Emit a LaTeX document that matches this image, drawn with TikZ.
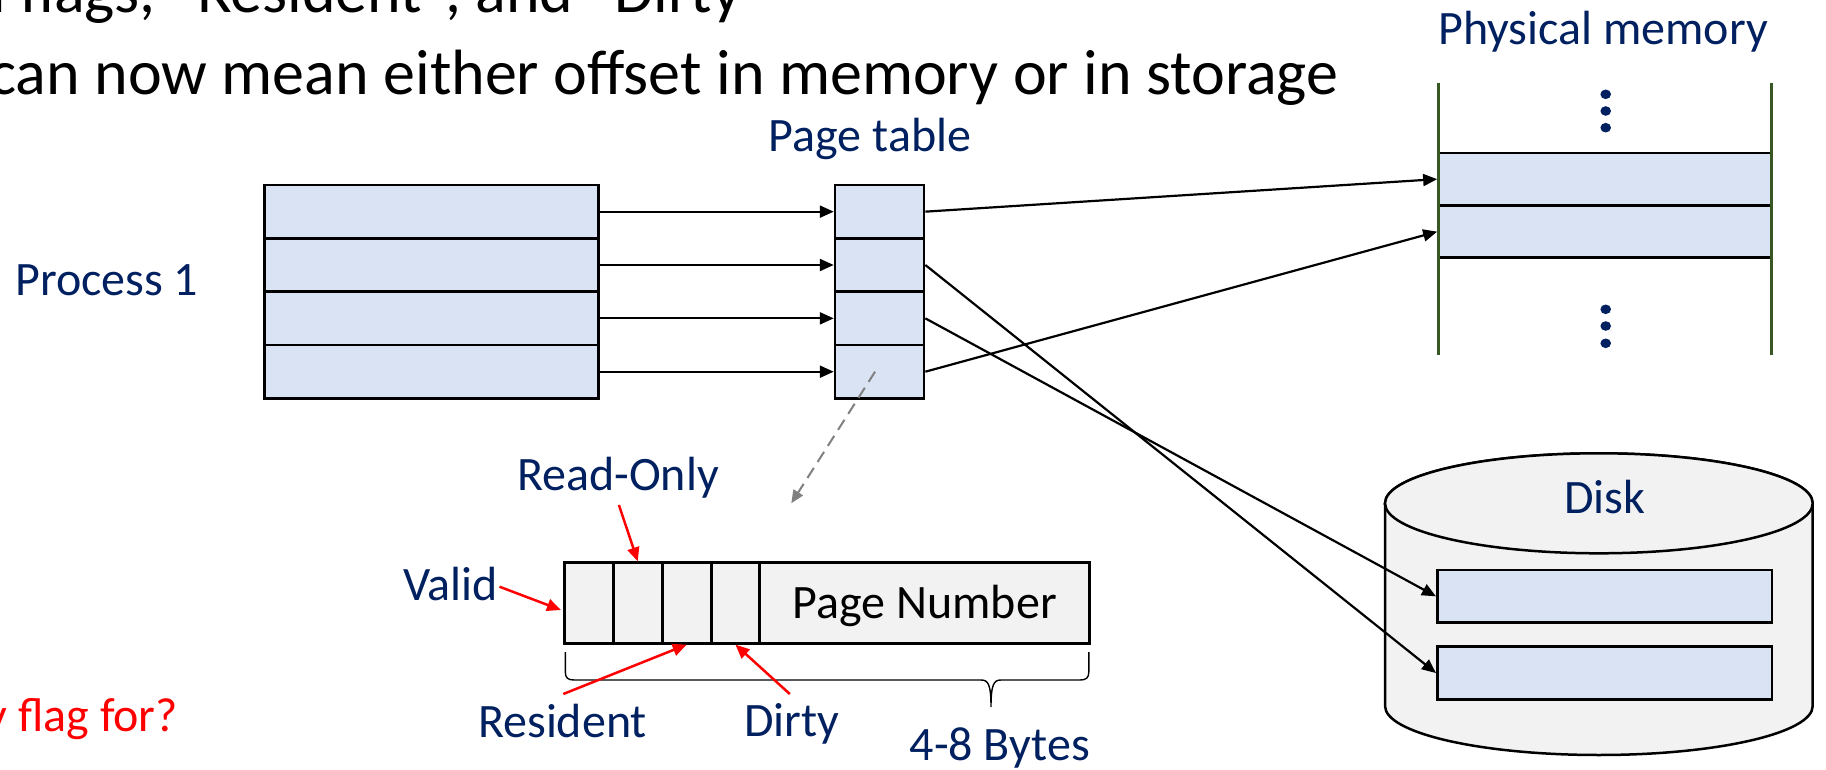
\documentclass[tikz,border=0pt]{standalone}
\usepackage{fontspec}
\setmainfont{Carlito}
\usetikzlibrary{arrows.meta,calc}
\definecolor{navy}{HTML}{002060}
\definecolor{boxblue}{HTML}{DAE3F3}
\definecolor{paleg}{HTML}{F2F2F2}
\definecolor{memgreen}{HTML}{385723}
\definecolor{pptred}{HTML}{FF0000}
\definecolor{dashgray}{HTML}{808080}
\newcommand\hdrfont{\fontsize{64}{76}\selectfont}
\newcommand\lblfont{\fontsize{48}{57}\selectfont}
\newlength\hdrskip
\newlength\qskip
\begin{document}
\settowidth{\hdrskip}{\hdrfont Add\ }%
\settowidth{\qskip}{\lblfont What is the Dirty\ }%
\begin{tikzpicture}[x=1pt,y=-1pt,
  prow/.style={draw=black, line width=2.7pt, fill=boxblue, rectangle, inner sep=0pt, minimum width=334.3pt, minimum height=53.3pt},
  trow/.style={draw=black, line width=2.7pt, fill=boxblue, rectangle, inner sep=0pt, minimum width=88.9pt, minimum height=53.3pt},
  mrow/.style={draw=black, line width=2.7pt, fill=boxblue, rectangle, inner sep=0pt, minimum width=333pt, minimum height=52pt},
  drow/.style={draw=black, line width=2.7pt, fill=boxblue, rectangle, inner sep=0pt, minimum width=334.7pt, minimum height=52.7pt},
  ecell/.style={draw=black, line width=2.7pt, fill=paleg, rectangle, inner sep=0pt, minimum height=80.6pt},
  lbl/.style={text=navy, font=\lblfont, inner sep=0pt, anchor=base},
  conn/.style={draw=black, line width=2.2pt, -{Triangle[length=14pt,width=12pt]}},
  redarr/.style={draw=pptred, line width=2.5pt, -{Triangle[length=14pt,width=12pt]}},
  dasharr/.style={draw=dashgray, line width=2pt, dash pattern=on 12pt off 7pt, -{Triangle[length=13pt,width=11pt]}},
  memdot/.style={fill=navy, draw=none},
]
\useasboundingbox (0,0) rectangle (1826,770);

% header text
\node[anchor=base west, inner sep=0pt, font=\hdrfont] (hdr1) at (20pt-\hdrskip,-12.7pt) {Add flags, “Resident”, and “Dirty”};
\node[anchor=base west, inner sep=0pt, font=\hdrfont] (hdr2) at (-11,95) {can now mean either offset in memory or in storage};
\node[anchor=base west, inner sep=0pt, font=\lblfont, text=pptred] (question) at (18pt-\qskip,-731.7pt) {What is the Dirty flag for?};

% labels
\node[lbl] (proclabel) at (106.7,295) {Process 1};
\node[lbl] (ptlabel) at (870,151.7) {Page table};
\node[lbl] (pmlabel) at (1603,45) {Physical memory};

% process rows
\node[prow] (p1) at (431.55,211.65) {};
\node[prow] (p2) at (431.55,265) {};
\node[prow] (p3) at (431.55,318.35) {};
\node[prow] (p4) at (431.55,371.7) {};

% page table rows
\node[trow] (t1) at (879.55,211.65) {};
\node[trow] (t2) at (879.55,265) {};
\node[trow] (t3) at (879.55,318.35) {};
\node[trow] (t4) at (879.55,371.7) {};

% physical memory
\node[mrow] (m1) at (1605,179.15) {};
\node[mrow] (m2) at (1605,231.65) {};
\draw[memgreen, line width=3.3pt] (1438.5,82.7) -- (1438.5,355);
\draw[memgreen, line width=3.3pt] (1771.5,82.7) -- (1771.5,355);
\foreach \yy in {94.3,111,127.7,309.3,326,343.3}
  \fill[memdot] (1605.7,\yy) ellipse [x radius=5.3, y radius=4.8];

% disk
\draw[line width=2.5pt, fill=paleg] (1385,503.3) -- (1385,706)
  arc[start angle=180, end angle=0, x radius=213.85, y radius=49]
  -- (1812.7,503.3)
  arc[start angle=0, end angle=-180, x radius=213.85, y radius=50] -- cycle;
\draw[line width=2.5pt, fill=paleg] (1598.85,503.3) ellipse [x radius=213.85, y radius=50];
\node[lbl] (disklabel) at (1605,513) {Disk};
\node[drow] (d1) at (1604.65,596.35) {};
\node[drow] (d2) at (1604.65,673) {};

% page table entry
\node[ecell, minimum width=49pt] (c1) at (588.8,603) {};
\node[ecell, minimum width=48.9pt] (c2) at (637.75,603) {};
\node[ecell, minimum width=49pt] (c3) at (686.7,603) {};
\node[ecell, minimum width=48.5pt] (c4) at (735.45,603) {};
\node[ecell, minimum width=330.1pt] (pn) at (924.75,603) {};
\node[lbl, text=black] (pnlabel) at (924.7,618.3) {Page Number};

\node[lbl] (rolabel) at (618,490.7) {Read-Only};
\node[lbl] (validlabel) at (450.7,600) {Valid};
\node[lbl] (reslabel) at (562.5,737.3) {Resident};
\node[lbl] (dirtylabel) at (792,736.7) {Dirty};
\node[lbl] (byteslabel) at (999.7,760.7) {4-8 Bytes};

% brace
\coordinate (brL) at (565.3,652);
\coordinate (brT) at (991,707);
\coordinate (brR) at (1088.8,652);
\draw[line width=1.4pt] (brL) -- (565.3,672) .. controls (565.3,678) and (568,680) .. (574,680)
  -- (981,680) .. controls (988,680) and (991,684) .. (brT)
  .. controls (991,684) and (994,680) .. (1001,680)
  -- (1080,680) .. controls (1086,680) and (1088.8,678) .. (1088.8,672) -- (brR);

% connectors process -> page table
\draw[conn] (p1.east) -- (t1.west);
\draw[conn] (p2.east) -- (t2.west);
\draw[conn] (p3.east) -- (t3.west);
\draw[conn] (p4.east) -- (t4.west);

% page table -> memory / disk
\draw[conn] (t1.east) -- (m1.west);
\draw[conn] (t4.east) -- (m2.west);
\draw[conn] (t2.east) -- (d2.west);
\draw[conn] (t3.east) -- (d1.west);

% dashed zoom arrow
\coordinate (zoomend) at (791.3,503.3);
\draw[dasharr] ($(t4.center)+(-4.5,0)$) -- (zoomend);

% red annotation arrows
\coordinate (roS) at (618.9,505);
\coordinate (vaS) at (499.5,586.7);
\coordinate (resS) at (563.3,694);
\coordinate (dirS) at (789.8,694);
\draw[redarr] (roS) -- (c2.north);
\draw[redarr] (vaS) -- ($(c1.west)+(-2,7)$);
\draw[redarr] (resS) -- (c3.south);
\draw[redarr] (dirS) -- (c4.south);
\end{tikzpicture}
\end{document}
